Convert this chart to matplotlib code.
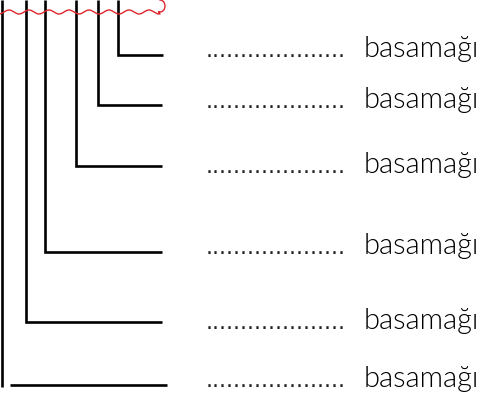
import numpy as np
import matplotlib
matplotlib.use("Agg")
import matplotlib.pyplot as plt

# step labels (one per row, top to bottom)
blank = "...................."
labels = ["basamağı", "basamağı", "basamağı", "basamağı", "basamağı", "basamağı"]

# geometry in pixels (y down)
stem_x = [118, 98, 76, 45, 26, 2]          # vertical strokes
corner_y = [55, 105, 166, 252, 322, 385]   # where each turns right
arm_end = [163, 162, 162, 162, 162, 167]
text_base = [57, 108, 173, 254, 329, 387]

W, H = 489, 404
fig = plt.figure(figsize=(W / 100, H / 100), dpi=100)
ax = fig.add_axes([0, 0, 1, 1])
ax.set_xlim(0, W)
ax.set_ylim(H, 0)
ax.axis("off")

lw = 1.9
for i, (x, y, xe) in enumerate(zip(stem_x, corner_y, arm_end)):
    if i == len(stem_x) - 1:
        # last one: stem drops a bit past the arm, arm is detached
        ax.plot([x, x], [0, y + 2], color="black", lw=lw, solid_capstyle="butt")
        ax.plot([10, xe], [y, y], color="black", lw=lw, solid_capstyle="butt")
    else:
        ax.plot([x, x, xe], [0, y, y], color="black", lw=lw,
                solid_capstyle="butt", solid_joinstyle="miter")

# red wavy line at the top with a curl on the right
wx = np.linspace(0, 160, 400)
wy = 12 - 2.0 * np.sin(2 * np.pi * (wx - 4) / 20)
t = np.linspace(-np.pi / 2, np.pi / 2 + 0.3, 60)
cx = 160 + 5 * np.cos(t)
cy = 6 + 6 * np.sin(t)
ax.plot(np.r_[wx, cx[::-1]], np.r_[wy, cy[::-1]], color="#e0252b", lw=1.0)

for yb, lab in zip(text_base, labels):
    ax.text(206, yb, blank, fontsize=16, family="DejaVu Sans",
            va="baseline", ha="left", color="#222222")
    ax.text(364, yb, lab, fontsize=21, family="Lato", weight=300,
            va="baseline", ha="left", color="black")

fig.savefig("out.png", dpi=100)
